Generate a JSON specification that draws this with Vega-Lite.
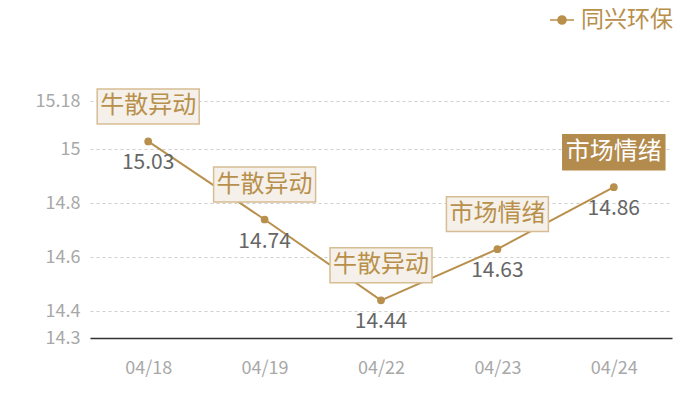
{
  "$schema": "https://vega.github.io/schema/vega-lite/v6.json",
  "autosize": {"type": "none"},
  "width": 582,
  "height": 237,
  "padding": {"left": 90, "top": 101, "right": 28, "bottom": 62},
  "background": "#ffffff",
  "config": {
    "font": "Noto Sans CJK SC",
    "view": {"stroke": null},
    "axisY": {
      "labelColor": "#a8a8a8",
      "labelFontSize": 18,
      "labelPadding": 10,
      "domain": false,
      "ticks": false,
      "gridColor": "#cfcfcf",
      "gridDash": [3, 3],
      "gridWidth": 1,
      "title": null
    },
    "axisX": {
      "labelColor": "#a8a8a8",
      "labelFontSize": 18,
      "labelPadding": 21,
      "labelAngle": 0,
      "ticks": false,
      "grid": false,
      "domainColor": "#333333",
      "domainWidth": 1.5,
      "title": null
    }
  },
  "data": {
    "values": [
      {"date": "04/18", "value": 15.03, "tag": "牛散异动", "kind": "light", "series": "同兴环保"},
      {"date": "04/19", "value": 14.74, "tag": "牛散异动", "kind": "light", "series": "同兴环保"},
      {"date": "04/22", "value": 14.44, "tag": "牛散异动", "kind": "light", "series": "同兴环保"},
      {"date": "04/23", "value": 14.63, "tag": "市场情绪", "kind": "light", "series": "同兴环保"},
      {"date": "04/24", "value": 14.86, "tag": "市场情绪", "kind": "dark", "series": "同兴环保"}
    ]
  },
  "encoding": {
    "x": {"field": "date", "type": "ordinal", "sort": null, "scale": {"type": "point", "padding": 0.5}},
    "y": {
      "field": "value",
      "type": "quantitative",
      "scale": {"domain": [14.3, 15.18], "nice": false, "zero": false},
      "axis": {"values": [14.3, 14.4, 14.6, 14.8, 15, 15.18], "grid": true, "labelExpr": "'' + datum.value"}
    }
  },
  "layer": [
    {
      "mark": {"type": "line", "strokeWidth": 2},
      "encoding": {
        "color": {
          "field": "series",
          "type": "nominal",
          "scale": {"range": ["#b8904c"]},
          "legend": {
            "orient": "none",
            "legendX": 459,
            "legendY": -94,
            "title": null,
            "labelFontSize": 23,
            "labelColor": "#b8904c",
            "labelOffset": 6,
            "symbolType": "M-1,0 L1,0 M0.34,0 A0.34,0.34 0 1,1 -0.34,0 A0.34,0.34 0 1,1 0.34,0 Z",
            "symbolSize": 576,
            "symbolStrokeWidth": 1.5,
            "symbolFillColor": "#b8904c",
            "symbolStrokeColor": "#b8904c"
          }
        }
      }
    },
    {
      "mark": {"type": "point", "filled": true, "size": 60, "color": "#b8904c", "opacity": 1}
    },
    {
      "mark": {"type": "text", "dy": 22, "baseline": "middle", "fontSize": 21, "color": "#666666"},
      "encoding": {"text": {"field": "value", "type": "quantitative", "format": ".2f"}}
    },
    {
      "mark": {
        "type": "point",
        "shape": "M-1,-0.343 L1,-0.343 L1,0.343 L-1,0.343 Z",
        "size": 10404,
        "yOffset": -35,
        "filled": true,
        "strokeWidth": 1.5,
        "opacity": 1
      },
      "encoding": {
        "fill": {"field": "kind", "type": "nominal", "scale": {"domain": ["light", "dark"], "range": ["#f5f0ea", "#b38b4d"]}, "legend": null},
        "stroke": {"field": "kind", "type": "nominal", "scale": {"domain": ["light", "dark"], "range": ["#d6bd94", "#b38b4d"]}, "legend": null}
      }
    },
    {
      "mark": {"type": "text", "dy": -35, "baseline": "middle", "fontSize": 24},
      "encoding": {
        "text": {"field": "tag", "type": "nominal"},
        "color": {"field": "kind", "type": "nominal", "scale": {"domain": ["light", "dark"], "range": ["#b8904c", "#ffffff"]}, "legend": null}
      }
    }
  ],
  "resolve": {"scale": {"color": "independent", "fill": "independent", "stroke": "independent"}}
}
